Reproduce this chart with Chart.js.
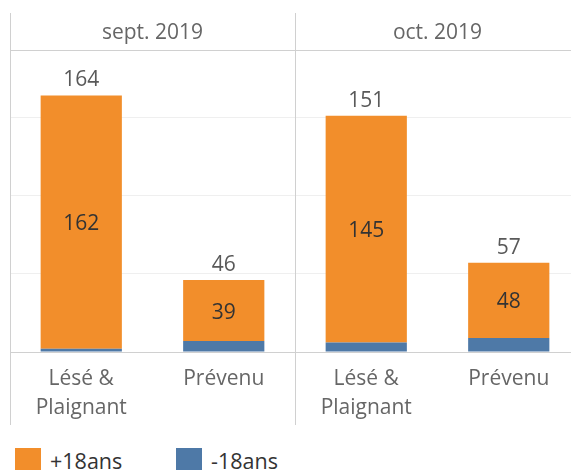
<!DOCTYPE html>
<html>
<head>
<meta charset="utf-8">
<script src="https://cdn.jsdelivr.net/npm/chart.js@4.4.0/dist/chart.umd.min.js"></script>
<style>
  html, body { margin: 0; padding: 0; background: #fff; overflow: hidden; }
  #wrap { position: relative; width: 571px; height: 470px; overflow: hidden; }
  #legend { position: absolute; left: 15px; top: 446px; display: flex; font-family: "Open Sans", sans-serif; font-size: 21.5px; color: #333; }
  .item { display: flex; align-items: center; width: 161px; }
  .box { width: 26px; height: 26px; margin-right: 9px; }
</style>
</head>
<body>
<div id="wrap">
  <canvas id="chart" width="581" height="430"></canvas>
  <div id="legend"></div>
</div>
<script>
// panels (months) and categories inside each panel
const months = ["sept. 2019", "oct. 2019"];
const roles = [["Lésé &", "Plaignant"], "Prévenu"];

// values per bar, in order: sept L&P, sept Prévenu, oct L&P, oct Prévenu
const adults = [162, 39, 145, 48];   // +18ans
const minors = [2, 7, 6, 9];         // -18ans

const seriesNames = ["-18ans", "+18ans"];
const seriesColors = ["#4E79A7", "#F28E2B"];

const labels = [];
months.forEach(() => roles.forEach(r => labels.push(r)));

const FONT = '"Open Sans", sans-serif';

// headers, panel borders and value labels
const facetPlugin = {
    id: "facets",
    afterDatasetsDraw(chart) {
        const { ctx, chartArea, scales } = chart;
        const x = scales.x;
        const perPanel = roles.length;
        ctx.save();

        // value labels
        const topMeta = chart.getDatasetMeta(1);
        ctx.textAlign = "center";
        ctx.textBaseline = "middle";
        ctx.font = "21px " + FONT;
        topMeta.data.forEach((bar, i) => {
            ctx.fillStyle = "#333";
            ctx.fillText(adults[i], bar.x, (bar.y + bar.base) / 2 + 2);
            ctx.fillStyle = "#595959";
            ctx.fillText(adults[i] + minors[i], bar.x, bar.y - 15);
        });

        // grid frame
        ctx.strokeStyle = "#d0d0d0";
        ctx.lineWidth = 1;
        ctx.beginPath();
        ctx.moveTo(chartArea.left, chartArea.top + 0.5);
        ctx.lineTo(chart.width, chartArea.top + 0.5);
        for (let m = 0; m < months.length; m++) {
            const edge = Math.round(x.getPixelForValue(m * perPanel) - x.width / labels.length / 2) + 0.5;
            ctx.moveTo(edge, 13);
            ctx.lineTo(edge, 425);
        }
        ctx.stroke();

        // month headers
        ctx.fillStyle = "#666";
        months.forEach((m, k) => {
            const a = x.getPixelForValue(k * perPanel);
            const b = x.getPixelForValue(k * perPanel + perPanel - 1);
            ctx.fillText(m, (a + b) / 2, 33);
        });
        ctx.restore();
    }
};

new Chart(document.getElementById("chart"), {
    type: "bar",
    data: {
        labels: labels,
        datasets: [
            { label: seriesNames[0], data: minors, backgroundColor: seriesColors[0] },
            { label: seriesNames[1], data: adults, backgroundColor: seriesColors[1] }
        ]
    },
    options: {
        responsive: false,
        animation: false,
        layout: { padding: { top: 50, left: 10, right: 1, bottom: 5 } },
        datasets: { bar: { categoryPercentage: 1, barPercentage: 0.57 } },
        plugins: { legend: { display: false }, tooltip: { enabled: false } },
        scales: {
            x: {
                stacked: true,
                grid: { display: false },
                border: { color: "#d0d0d0" },
                ticks: { color: "#666", font: { family: FONT, size: 21, lineHeight: 1.38 }, padding: 5, maxRotation: 0, autoSkip: false },
                afterFit: s => { s.height = 73; }
            },
            y: {
                stacked: true,
                min: 0,
                max: 193,
                ticks: { display: false, stepSize: 50 },
                grid: { color: "#efefef", drawTicks: false },
                border: { display: false },
                afterFit: s => { s.width = 0; }
            }
        }
    },
    plugins: [facetPlugin]
});

// legend, +18ans first
const legend = document.getElementById("legend");
[1, 0].forEach(i => {
    const item = document.createElement("div");
    item.className = "item";
    item.innerHTML = '<div class="box" style="background:' + seriesColors[i] + '"></div><span>' + seriesNames[i] + '</span>';
    legend.appendChild(item);
});
</script>
</body>
</html>
